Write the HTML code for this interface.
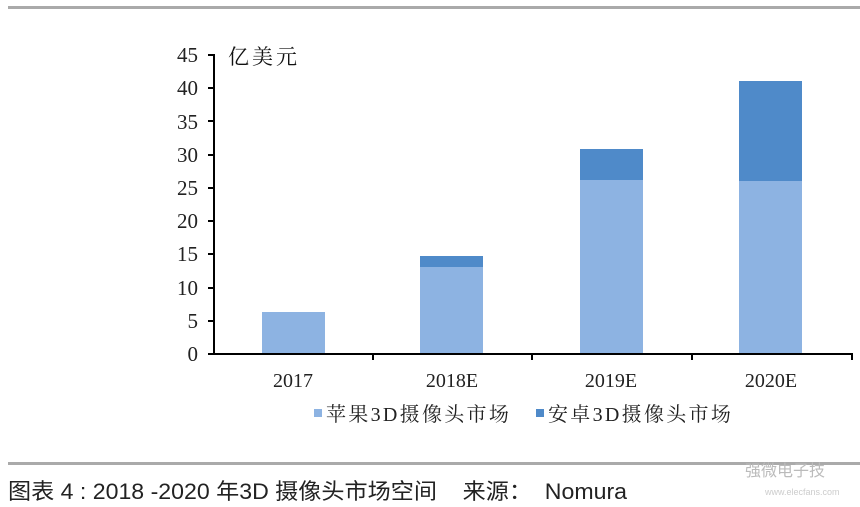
<!DOCTYPE html><html><head><meta charset="utf-8"><style>
body{margin:0;width:860px;height:507px;background:#fff;overflow:hidden;font-family:"Liberation Serif","Noto Serif CJK SC",serif}
</style></head><body>
<svg width="860" height="507" xmlns="http://www.w3.org/2000/svg" style="position:absolute;left:0;top:0">
<rect x="8" y="6" width="852" height="3" fill="#aaa"/>
<g font-family="Liberation Serif" font-size="21" fill="#222" text-anchor="end">
<text x="198" y="361">0</text><text x="198" y="295">10</text><text x="198" y="328">5</text>
<text x="198" y="261">15</text><text x="198" y="228">20</text><text x="198" y="195">25</text>
<text x="198" y="162">30</text><text x="198" y="129">35</text><text x="198" y="95">40</text><text x="198" y="62">45</text>
</g>
<text x="228" y="64" font-family="Noto Serif CJK SC" font-size="21" fill="#111" letter-spacing="3">亿美元</text>
<g fill="#8db3e2">
<rect x="262" y="312" width="63" height="42"/>
<rect x="420" y="267" width="63" height="87"/>
<rect x="580" y="180" width="63" height="174"/>
<rect x="739" y="181" width="63" height="173"/>
</g>
<g fill="#4f8ac9">
<rect x="420" y="256" width="63" height="11"/>
<rect x="580" y="149" width="63" height="31"/>
<rect x="739" y="81" width="63" height="100"/>
</g>
<g stroke="#000" stroke-width="2">
<line x1="214" y1="54" x2="214" y2="355"/>
<line x1="213" y1="354" x2="853" y2="354"/>
<line x1="208" y1="55" x2="214" y2="55"/><line x1="208" y1="88" x2="214" y2="88"/>
<line x1="208" y1="121" x2="214" y2="121"/><line x1="208" y1="155" x2="214" y2="155"/>
<line x1="208" y1="188" x2="214" y2="188"/><line x1="208" y1="221" x2="214" y2="221"/>
<line x1="208" y1="254" x2="214" y2="254"/><line x1="208" y1="288" x2="214" y2="288"/>
<line x1="208" y1="321" x2="214" y2="321"/><line x1="208" y1="354" x2="214" y2="354"/>
<line x1="373" y1="354" x2="373" y2="360"/><line x1="532" y1="354" x2="532" y2="360"/>
<line x1="692" y1="354" x2="692" y2="360"/><line x1="852" y1="354" x2="852" y2="360"/>
</g>
<g font-family="Liberation Serif" font-size="20" fill="#222" text-anchor="middle">
<text x="293" y="387">2017</text><text x="452" y="387">2018E</text>
<text x="611" y="387">2019E</text><text x="771" y="387">2020E</text>
</g>
<rect x="314" y="409" width="8" height="8" fill="#8db3e2"/>
<text x="326" y="421" font-family="Liberation Serif,Noto Serif CJK SC" font-size="20" letter-spacing="2.3" fill="#222">苹果3D摄像头市场</text>
<rect x="536" y="409" width="8" height="8" fill="#4f8ac9"/>
<text x="548" y="421" font-family="Liberation Serif,Noto Serif CJK SC" font-size="20" letter-spacing="2.3" fill="#222">安卓3D摄像头市场</text>
<rect x="8" y="462" width="852" height="3" fill="#aaa"/>
<text x="8" y="499" font-family="Liberation Sans,Noto Sans CJK SC" font-size="22" fill="#222" xml:space="preserve" style="white-space:pre" textLength="619" lengthAdjust="spacingAndGlyphs">图表 4 : 2018 -2020 年3D 摄像头市场空间    来源：  Nomura</text>
<text x="745" y="476" font-family="Noto Sans CJK SC" font-size="16" fill="#bbb">强微电子技</text>
<text x="765" y="495" font-family="Liberation Sans" font-size="9" fill="#ccc">www.elecfans.com</text>
</svg>
</body></html>
